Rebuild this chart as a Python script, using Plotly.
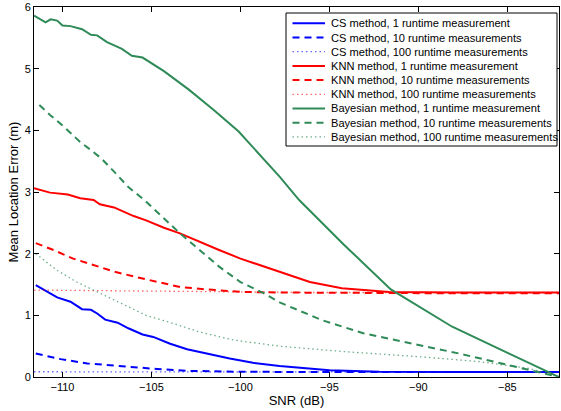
import plotly.graph_objects as go

# ---- data ----
bay1_x = [-111.6, -110.95, -110.67, -110.3, -110.0, -109.55, -108.9, -108.4, -108.05, -107.5, -106.66, -106.1,
          -105.5, -104.3, -102.9, -101.5, -100.1, -97.8, -96.7, -94.2, -91.55, -88.1, -84.9, -82.1]
bay1_y = [5.86, 5.75, 5.80, 5.78, 5.70, 5.69, 5.64, 5.55, 5.54, 5.43, 5.32, 5.21,
          5.18, 4.96, 4.66, 4.33, 3.98, 3.25, 2.87, 2.15, 1.42, 0.815, 0.38, 0.0]

bay10_x = [-111.3, -110.7, -110.0, -109.5, -109.0, -108.4, -107.8, -107.1, -106.3, -105.4, -103.4, -102.3,
           -101.2, -100.0, -98.7, -97.8, -95.4, -93.1, -90.0, -87.7, -84.9, -83.1, -82.1]
bay10_y = [4.41, 4.25, 4.08, 3.95, 3.81, 3.68, 3.54, 3.33, 3.08, 2.87, 2.33, 2.06,
           1.79, 1.54, 1.36, 1.21, 0.92, 0.71, 0.52, 0.38, 0.19, 0.06, 0.0]

bay100_x = [-111.5, -110.3, -109.2, -108.05, -106.6, -105.3, -103.8, -102.3, -100.4, -97.8, -94.1, -90.0,
            -86.6, -83.8, -82.1]
bay100_y = [2.0, 1.73, 1.54, 1.38, 1.19, 1.0, 0.87, 0.73, 0.60, 0.50, 0.41, 0.33,
            0.25, 0.14, 0.0]

knn1_x = [-111.6, -110.7, -109.7, -109.0, -108.25, -107.9, -107.1, -106.0, -105.3, -104.3, -103.4, -102.3,
          -101.2, -100.0, -98.7, -97.8, -96.1, -94.3, -91.65, -88.0, -85.0, -82.1]
knn1_y = [3.06, 2.99, 2.96, 2.90, 2.87, 2.80, 2.75, 2.61, 2.54, 2.42, 2.33, 2.19,
          2.06, 1.92, 1.79, 1.71, 1.54, 1.44, 1.38, 1.37, 1.37, 1.37]

knn10_x = [-111.5, -110.5, -109.4, -108.25, -107.1, -106.0, -104.9, -103.4, -101.9, -100.0, -97.8, -94.0,
           -90.0, -86.0, -82.1]
knn10_y = [2.17, 2.06, 1.92, 1.82, 1.71, 1.63, 1.56, 1.46, 1.42, 1.38, 1.37, 1.36,
           1.36, 1.36, 1.36]

knn100_x = [-111.6, -108.0, -104.0, -100.0, -96.0, -90.0, -86.0, -82.1]
knn100_y = [1.41, 1.40, 1.39, 1.38, 1.37, 1.37, 1.37, 1.37]

cs1_x = [-111.5, -110.86, -110.3, -109.55, -108.9, -108.4, -108.05, -107.6, -106.9, -106.3, -105.5, -104.9,
         -103.95, -103.0, -101.9, -100.6, -99.3, -97.8, -95.0, -92.2, -88.0, -85.0, -82.1]
cs1_y = [1.49, 1.38, 1.29, 1.22, 1.10, 1.09, 1.03, 0.93, 0.88, 0.79, 0.69, 0.65,
         0.54, 0.45, 0.38, 0.30, 0.23, 0.18, 0.11, 0.086, 0.08, 0.08, 0.08]

cs10_x = [-111.5, -110.1, -108.6, -106.6, -104.7, -103.0, -100.4, -96.0, -90.0, -86.0, -82.1]
cs10_y = [0.38, 0.29, 0.22, 0.17, 0.13, 0.10, 0.086, 0.08, 0.08, 0.08, 0.08]

cs100_x = [-111.6, -105.0, -100.0, -95.0, -90.0, -85.0, -82.1]
cs100_y = [0.085, 0.083, 0.082, 0.08, 0.08, 0.08, 0.08]

x_ticks = [-110, -105, -100, -95, -90, -85]
y_ticks = [0, 1, 2, 3, 4, 5, 6]

BLUE = "#0000FF"
RED = "#FF0000"
GREEN = "#2E8B57"
BLUE_L = "rgba(0,0,255,0.6)"
RED_L = "rgba(255,0,0,0.6)"
GREEN_L = "rgba(46,139,87,0.7)"
DASH = "7px,5px"
DOT = "1.5px,3px"

series = [
    ("CS method, 1 runtime measurement", cs1_x, cs1_y, BLUE, "solid", 2),
    ("CS method, 10 runtime measurements", cs10_x, cs10_y, BLUE, DASH, 2),
    ("CS method, 100 runtime measurements", cs100_x, cs100_y, BLUE_L, DOT, 1.3),
    ("KNN method, 1 runtime measurement", knn1_x, knn1_y, RED, "solid", 2),
    ("KNN method, 10 runtime measurements", knn10_x, knn10_y, RED, DASH, 2),
    ("KNN method, 100 runtime measurements", knn100_x, knn100_y, RED_L, DOT, 1.3),
    ("Bayesian method, 1 runtime measurement", bay1_x, bay1_y, GREEN, "solid", 2),
    ("Bayesian method, 10 runtime measurements", bay10_x, bay10_y, GREEN, DASH, 2),
    ("Bayesian method, 100 runtime measurements", bay100_x, bay100_y, GREEN_L, DOT, 1.3),
]

W, H = 561, 411
ML, MR, MT, MB = 34, 2, 7, 34
PW, PH = W - ML - MR, H - MT - MB

def px2x(px):
    return (px - ML) / PW

def py2y(py):
    return (H - MB - py) / PH

FONT = "Liberation Sans, Arial, Helvetica, sans-serif"

fig = go.Figure()
shapes = []
annotations = []

# legend box
shapes.append(dict(type="rect", xref="paper", yref="paper",
                   x0=px2x(286), x1=px2x(557), y0=py2y(146), y1=py2y(13),
                   line=dict(color="black", width=1), fillcolor="white", layer="above"))

for i, (name, xs, ys, col, dash, w) in enumerate(series):
    fig.add_trace(go.Scatter(x=xs, y=ys, mode="lines", name=name, showlegend=False,
                             line=dict(color=col, dash=dash, width=w)))
    ry = 23.3 + 14.2 * i
    shapes.append(dict(type="line", xref="paper", yref="paper",
                       x0=px2x(292.5), x1=px2x(325), y0=py2y(ry), y1=py2y(ry),
                       line=dict(color=col, dash=dash, width=w), layer="above"))
    annotations.append(dict(text=name, xref="paper", yref="paper",
                            x=px2x(328.5), y=py2y(ry), xanchor="left", yanchor="middle",
                            showarrow=False, font=dict(family=FONT, size=11.1, color="black")))

fig.update_layout(
    width=W, height=H,
    margin=dict(l=ML, r=MR, t=MT, b=MB),
    paper_bgcolor="white", plot_bgcolor="white",
    font=dict(family=FONT, size=11, color="black"),
    showlegend=False,
    shapes=shapes,
    annotations=annotations,
)
fig.update_xaxes(range=[-111.6, -82.1], tickvals=x_ticks,
                 showline=True, linecolor="black", linewidth=1, mirror="ticks",
                 ticks="inside", ticklen=5, tickcolor="black", showgrid=False, zeroline=False,
                 title=dict(text="SNR (dB)", standoff=2), automargin=False)
fig.update_yaxes(range=[0, 6], tickvals=y_ticks,
                 showline=True, linecolor="black", linewidth=1, mirror="ticks",
                 ticks="inside", ticklen=5, tickcolor="black", showgrid=False, zeroline=False,
                 title=dict(text="Mean Location Error (m)", standoff=3), automargin=False)

fig.write_html("out.html", config={"displayModeBar": False},
               post_script="document.body.style.margin='0';")
